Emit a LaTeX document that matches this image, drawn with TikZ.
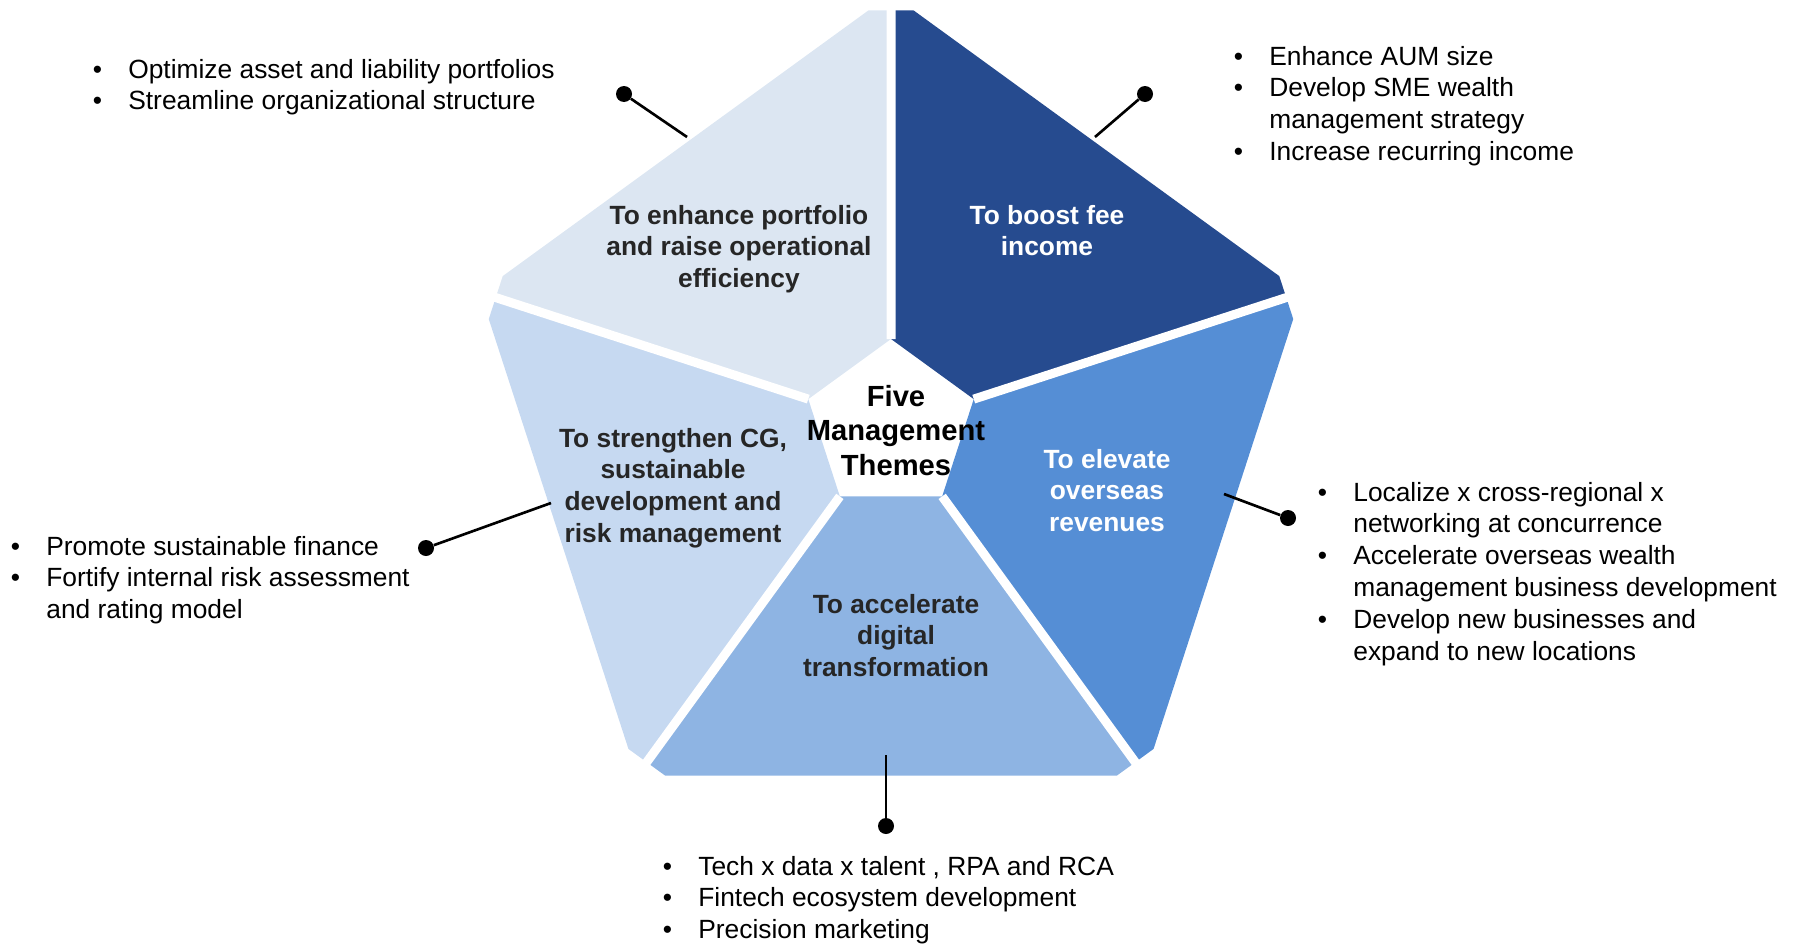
\documentclass[tikz,border=0pt]{standalone}
\usepackage{fontspec}
\setmainfont{Liberation Sans}
\usetikzlibrary{calc}
\definecolor{paleblue}{HTML}{DCE6F2}
\definecolor{navyblue}{HTML}{264B8F}
\definecolor{brightblue}{HTML}{558ED5}
\definecolor{softblue}{HTML}{8EB4E3}
\definecolor{lightblue}{HTML}{C6D9F1}
\definecolor{themegray}{HTML}{262626}
\newcommand{\stack}[2][c]{\begin{tabular}[t]{@{}#1@{}}#2\end{tabular}}
\newcommand{\bul}{\llap{\makebox[0.71cm][l]{\textbullet}}}

\begin{document}
\begin{tikzpicture}[x=0.02cm,y=-0.02cm,
	theme/.style={anchor=base,inner sep=0pt,font=\fontsize{15}{18.2}\selectfont\bfseries,text=themegray},
	items/.style={anchor=base west,inner sep=0pt,font=\fontsize{15}{18.2}\selectfont},
	dot/.style={circle,fill=black,inner sep=0pt,minimum size=0.32cm},
	link/.style={line width=1.5pt},
	gap/.style={white,line width=0.18cm}]
	\useasboundingbox (0,0) rectangle (1794,943);
	\coordinate (O) at (891,426);
	\foreach \k/\a in {1/-90,2/-18,3/54,4/126,5/198}{
		\coordinate (o\k) at ($(O)+(\a:432)$);
		\coordinate (i\k) at ($(O)+(\a:87)$);
	}
	% cut corners of the outer pentagon
	\foreach \k/\n/\p in {1/2/5,2/3/1,3/4/2,4/5/3,5/1/4}{
		\coordinate (a\k) at ($(o\k)!0.055!(o\n)$);
		\coordinate (b\k) at ($(o\k)!0.055!(o\p)$);
		\coordinate (m\k) at ($(a\k)!0.5!(b\k)$);
	}
	\foreach \k/\n/\c in {1/2/navyblue,2/3/brightblue,3/4/softblue,4/5/lightblue,5/1/paleblue}
		\fill[\c] (i\k) -- (m\k) -- (a\k) -- (b\n) -- (m\n) -- (i\n) -- cycle;
	\foreach \k in {1,...,5}
		\draw[gap] (i\k) -- ($(i\k)!1.05!(m\k)$);
	
	\node[theme] (enhance) at (739,224) {\stack{To enhance portfolio\\and raise operational\\efficiency}};
	\node[theme,text=white] (fee) at (1047,224) {\stack{To boost fee\\income}};
	\node[theme,text=white] (overseas) at (1107,468) {\stack{To elevate\\overseas\\revenues}};
	\node[theme] (digital) at (896,613) {\stack{To accelerate\\digital\\transformation}};
	\node[theme] (cg) at (673,447) {\stack{To strengthen CG,\\sustainable\\development and\\risk management}};
	\node[theme,text=black,font=\fontsize{16.6}{19.8}\selectfont\bfseries] (five) at (896,406) {\stack{Five\\Management\\Themes}};
	
	\node[items] (listA) at (128,78) {\stack[l]{\bul Optimize asset and liability portfolios\\\bul Streamline organizational structure}};
	\node[items] (listB) at (1269,65) {\stack[l]{\bul Enhance AUM size\\\bul Develop SME wealth\\management strategy\\\bul Increase recurring income}};
	\node[items] (listC) at (1353,501) {\stack[l]{\bul Localize x cross-regional x\\networking at concurrence\\\bul Accelerate overseas wealth\\management business development\\\bul Develop new businesses and\\expand to new locations}};
	\node[items] (listD) at (46,555) {\stack[l]{\bul Promote sustainable finance\\\bul Fortify internal risk assessment\\and rating model}};
	\node[items] (listE) at (698,875) {\stack[l]{\bul Tech x data x talent , RPA and RCA\\\bul Fintech ecosystem development\\\bul Precision marketing}};
	
	\node[dot] (dA) at (624,94) {};
	\node[dot] (dB) at (1145,94) {};
	\node[dot] (dC) at (1288,518) {};
	\node[dot] (dD) at (426,548) {};
	\node[dot] (dE) at (886,826) {};
	\coordinate (sA) at (687,137);
	\coordinate (sB) at (1095,137);
	\coordinate (sC) at (1224,494);
	\coordinate (sD) at (551,503);
	\coordinate (sE) at (886,755);
	\draw[link] (sA) -- (dA);
	\draw[link] (sB) -- (dB);
	\draw[link] (sC) -- (dC);
	\draw[link] (sD) -- (dD);
	\draw[link] (sE) -- (dE);
\end{tikzpicture}
\end{document}
